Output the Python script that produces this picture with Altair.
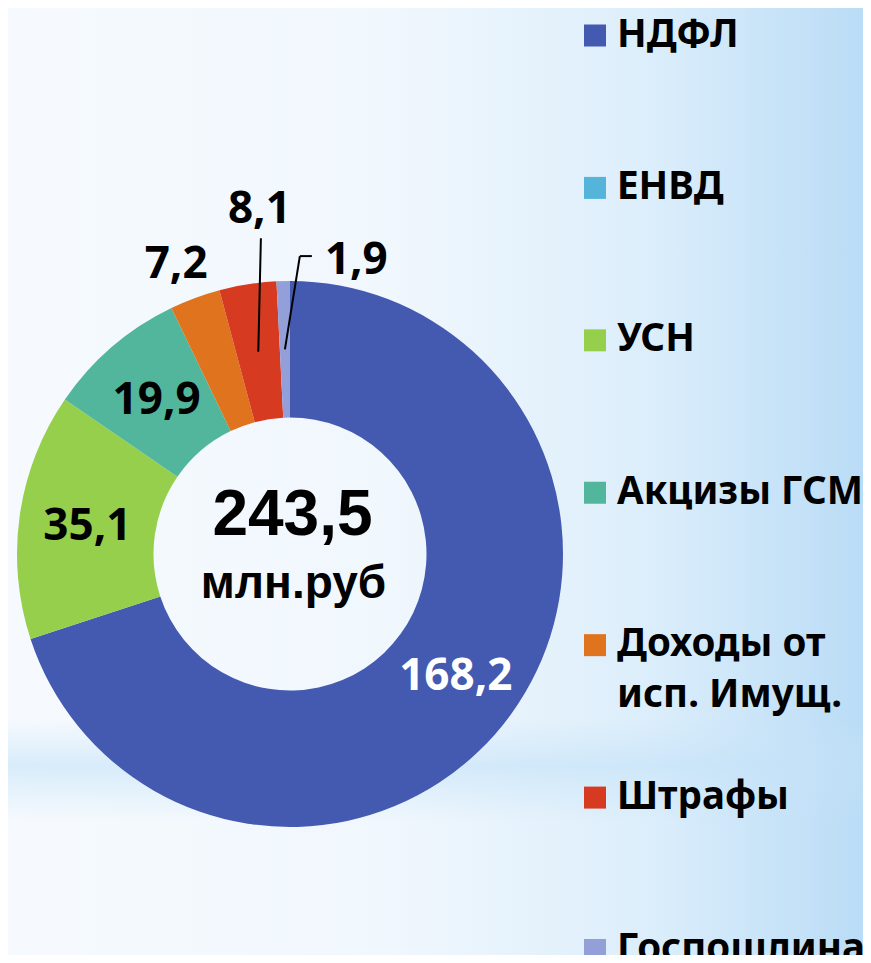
import altair as alt
import pandas as pd

# ---------------- data ----------------
categories = ["НДФЛ", "ЕНВД", "УСН", "Акцизы ГСМ", "Доходы от исп. Имущ.", "Штрафы", "Госпошлина"]
legend_labels = ["НДФЛ", "ЕНВД", "УСН", "Акцизы ГСМ", "Доходы от\nисп. Имущ.", "Штрафы", "Госпошлина"]
values = [168.2, 0.0, 35.1, 19.9, 7.2, 8.1, 1.9]
value_labels = ["168,2", "", "35,1", "19,9", "7,2", "8,1", "1,9"]
colors = ["#4459B0", "#55B4D9", "#96CF4B", "#52B69C", "#E0731E", "#D63A21", "#939FD8"]
total_label = "243,5"
unit_label = "млн.руб"

src = pd.DataFrame({
    "cat": categories,
    "legend": legend_labels,
    "value": values,
    "label": value_labels,
    "order": list(range(len(categories))),
})
center_df = pd.DataFrame({"t": [total_label], "u": [unit_label]})

# ---------------- layout / style ----------------
W, H = 855, 947
CX, CY = 282, 546
R_IN, R_OUT = 136.5, 273
R_MID = (R_IN + R_OUT) / 2
FONT = "Noto Sans"

cscale = alt.Scale(domain=categories, range=colors)

# label placement: radius, dx, dy, colour
LABEL_PLACE = {
    "НДФЛ": (R_MID, 0, 0, "white"),
    "УСН": (R_MID, 0, 0, "black"),
    "Акцизы ГСМ": (R_MID, 0, 0, "black"),
    "Доходы от исп. Имущ.": (310, -6, -1, "black"),
    "Штрафы": (350, 23.6, -1, "black"),
    "Госпошлина": (296, 73.7, 0, "black"),
}

one = alt.Data(values=[{}])

bg = alt.Chart(one).mark_rect(
    color=alt.Gradient(
        gradient="linear", x1=0, x2=1, y1=0, y2=0,
        stops=[
            alt.GradientStop(offset=0, color="#F6FAFE"),
            alt.GradientStop(offset=0.45, color="#F0F7FD"),
            alt.GradientStop(offset=0.75, color="#DCEEFB"),
            alt.GradientStop(offset=1, color="#BADCF6"),
        ],
    ),
    strokeWidth=0,
).encode(x=alt.value(0), x2=alt.value(W), y=alt.value(0), y2=alt.value(H))

band = alt.Chart(one).mark_rect(
    color=alt.Gradient(
        gradient="linear", x1=0, x2=0, y1=0, y2=1,
        stops=[
            alt.GradientStop(offset=0, color="rgba(200,228,248,0)"),
            alt.GradientStop(offset=0.75, color="rgba(200,228,248,0)"),
            alt.GradientStop(offset=0.8, color="rgba(196,226,248,0.6)"),
            alt.GradientStop(offset=0.86, color="rgba(200,228,248,0)"),
            alt.GradientStop(offset=1, color="rgba(200,228,248,0)"),
        ],
    ),
    strokeWidth=0,
).encode(x=alt.value(0), x2=alt.value(W), y=alt.value(0), y2=alt.value(H))

arcs = alt.Chart(src).mark_arc(innerRadius=R_IN, outerRadius=R_OUT, strokeWidth=0).encode(
    theta=alt.Theta("value:Q", stack=True),
    color=alt.Color("cat:N", scale=cscale, legend=None),
    order=alt.Order("order:Q", sort="ascending"),
    x=alt.value(CX),
    y=alt.value(CY),
)


def polar():
    return (
        alt.Chart(src)
        .transform_joinaggregate(total="sum(value)")
        .transform_window(cum="sum(value)", sort=[alt.SortField("order", order="ascending")], frame=[None, 0])
        .transform_calculate(mid="2*PI*(datum.cum - datum.value/2)/datum.total")
    )


def place(r, dx, dy):
    return dict(
        px=f"{CX} + {r}*sin(datum.mid) + {dx}",
        py=f"{CY} - {r}*cos(datum.mid) + {dy}",
        mx=f"{CX} + {R_MID}*sin(datum.mid)",
        my=f"{CY} - {R_MID}*cos(datum.mid)",
    )


labels = []
for cat, (r, dx, dy, col) in LABEL_PLACE.items():
    labels.append(
        polar()
        .transform_filter(alt.datum.cat == cat)
        .transform_calculate(**place(r, dx, dy))
        .mark_text(font=FONT, fontSize=44, fontWeight="bold", align="center", baseline="middle", dy=2.5, color=col)
        .encode(x=alt.X("px:Q", scale=None), y=alt.Y("py:Q", scale=None), text="label:N")
    )

r, dx, dy, _ = LABEL_PLACE["Штрафы"]
lead1 = (
    polar()
    .transform_filter(alt.datum.cat == "Штрафы")
    .transform_calculate(**place(r, dx, dy))
    .transform_calculate(ex="datum.px + 1.5", ey="datum.py + 31")
    .mark_rule(color="black", strokeWidth=2)
    .encode(x=alt.X("mx:Q", scale=None), y=alt.Y("my:Q", scale=None), x2="ex:Q", y2="ey:Q")
)

r, dx, dy, _ = LABEL_PLACE["Госпошлина"]
g_base = (
    polar()
    .transform_filter(alt.datum.cat == "Госпошлина")
    .transform_calculate(**place(r, dx, dy))
    .transform_calculate(ex="datum.px - 56.5", ey="datum.py - 2", fx="datum.px - 44.5")
)
lead2 = g_base.mark_rule(color="black", strokeWidth=2).encode(
    x=alt.X("mx:Q", scale=None), y=alt.Y("my:Q", scale=None), x2="ex:Q", y2="ey:Q"
)
lead3 = g_base.mark_rule(color="black", strokeWidth=2).encode(
    x=alt.X("ex:Q", scale=None), y=alt.Y("ey:Q", scale=None), x2="fx:Q", y2="ey:Q"
)

center1 = alt.Chart(center_df).mark_text(
    font="Liberation Sans", fontSize=64, fontWeight="bold", align="center", baseline="alphabetic", color="black"
).encode(x=alt.value(284.5), y=alt.value(527), text="t:N")
center2 = alt.Chart(center_df).mark_text(
    font="Liberation Sans", fontSize=46, fontWeight="bold", align="center", baseline="alphabetic", color="black"
).encode(x=alt.value(285.5), y=alt.value(590), text="u:N")

leg_y = alt.Y("order:Q", scale=alt.Scale(domain=[0, 6], range=[27.5, 942]), axis=None)
squares = alt.Chart(src).mark_square(size=484, opacity=1, filled=True).encode(
    x=alt.value(587), y=leg_y, color=alt.Color("cat:N", scale=cscale, legend=None)
)
leg_text = alt.Chart(src).mark_text(
    font=FONT, fontSize=38.5, fontWeight="bold", align="left", baseline="top", dy=-19,
    lineBreak="\n", lineHeight=51, color="black",
).encode(x=alt.value(609), y=leg_y, text="legend:N")

chart = (
    alt.layer(bg, band, arcs, *labels, lead1, lead2, lead3, center1, center2, squares, leg_text)
    .properties(width=W, height=H, padding=0, autosize=alt.AutoSizeParams(type="none"))
    .configure_view(stroke=None)
)

chart.save("out.html", embed_options={"renderer": "svg", "actions": False})
